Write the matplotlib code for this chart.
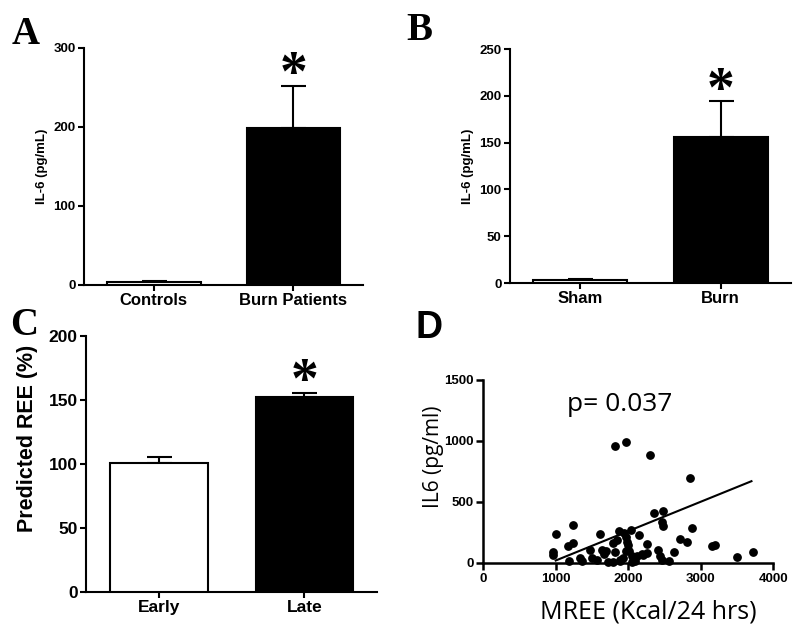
import numpy as np
import matplotlib
matplotlib.use("Agg")
import matplotlib.pyplot as plt

# Panel A - human IL-6
a_groups = ["Controls", "Burn Patients"]
a_means = [4, 198]
a_sem = [1, 54]
a_colors = ["white", "black"]

# Panel B - mouse IL-6
b_groups = ["Sham", "Burn"]
b_means = [3, 156]
b_sem = [1, 38]
b_colors = ["white", "black"]

# Panel C - predicted REE
c_groups = ["Early", "Late"]
c_means = [101, 152]
c_sem = [4, 3]
c_colors = ["white", "black"]

# Panel D - MREE vs IL6
mree = [1816, 1963, 2304, 2855, 2354, 2483, 2460, 2474, 2874, 1007, 1241, 1609,
        1871, 1940, 2037, 2143, 2713, 2805, 3159, 3196, 3494, 3724, 956, 956,
        1172, 1241, 1182, 1333, 1356, 1471, 1494, 1563, 1632, 1687, 1664, 1793,
        1816, 1784, 1839, 1885, 1931, 1968, 1977, 2000, 2014, 1963, 2046, 2092,
        2115, 2184, 2253, 2253, 2207, 2405, 2437, 2460, 2561, 2635, 2046, 1885,
        1725]
il6 = [958, 994, 883, 697, 410, 424, 335, 305, 289, 235, 308, 238,
       265, 243, 270, 230, 197, 173, 135, 148, 46, 86, 89, 62,
       140, 167, 13, 40, 19, 108, 40, 22, 108, 94, 76, 162,
       92, 5, 189, 27, 40, 216, 175, 148, 94, 94, 54, 13,
       54, 76, 157, 81, 67, 108, 54, 22, 16, 89, 5, 13,
       5]
fit_x = [1000, 3700]
fit_y = [20, 670]
p_text = "p= 0.037"

BAR_FONT = "Liberation Sans"


def bar_panel(ax, groups, means, sem, colors, ymax, ystep, ylabel, ylabel_size,
              tick_size, label_size):
    x = np.arange(len(groups))
    ax.bar(x, means, width=0.67, color=colors, edgecolor="black", linewidth=1.5, zorder=3)
    ax.errorbar(x, means, yerr=[np.zeros(len(sem)), sem], fmt="none", ecolor="black",
                elinewidth=1.5, capsize=9, capthick=1.5, zorder=2)
    # significance star above the second bar
    ax.text(x[1], means[1] + sem[1] + 0.042 * ymax, "*", ha="center", va="center",
            fontsize=40, fontweight="bold", family="Liberation Serif")
    ax.set_xlim(-0.5, 1.5)
    ax.set_ylim(0, ymax)
    ax.set_yticks(np.arange(0, ymax + 1, ystep))
    ax.set_xticks(x)
    ax.set_xticklabels(groups, fontsize=label_size, fontweight="bold", family=BAR_FONT)
    for t in ax.get_yticklabels():
        t.set_fontsize(tick_size)
        t.set_fontweight("bold")
        t.set_family(BAR_FONT)
    ax.set_ylabel(ylabel, fontsize=ylabel_size, fontweight="bold", family=BAR_FONT)
    for s in ["top", "right"]:
        ax.spines[s].set_visible(False)
    for s in ["left", "bottom"]:
        ax.spines[s].set_linewidth(1.5)
    ax.tick_params(width=1.5, length=4, pad=2)


fig = plt.figure(figsize=(8, 6.29), dpi=100)

axA = fig.add_axes([0.105, 0.547, 0.349, 0.377])
bar_panel(axA, a_groups, a_means, a_sem, a_colors, 300, 100, "IL-6 (pg/mL)", 9.5, 9.5, 12)

axB = fig.add_axes([0.6375, 0.550, 0.351, 0.372])
bar_panel(axB, b_groups, b_means, b_sem, b_colors, 250, 50, "IL-6 (pg/mL)", 9.5, 9.5, 12)

axC = fig.add_axes([0.1075, 0.059, 0.364, 0.407])
bar_panel(axC, c_groups, c_means, c_sem, c_colors, 200, 50, "Predicted REE (%)", 15.5, 12.5, 12.5)
axC.yaxis.set_label_coords(-0.165, 0.6)

axD = fig.add_axes([0.604, 0.105, 0.3625, 0.291])
axD.scatter(mree, il6, s=28, color="black", zorder=3, clip_on=False)
axD.plot(fit_x, fit_y, color="black", linewidth=1.5, zorder=2)
axD.set_xlim(0, 4000)
axD.set_ylim(0, 1500)
axD.set_xticks([0, 1000, 2000, 3000, 4000])
axD.set_yticks([0, 500, 1000, 1500])
for t in axD.get_xticklabels() + axD.get_yticklabels():
    t.set_fontsize(9.5)
    t.set_fontweight("bold")
    t.set_family(BAR_FONT)
axD.set_xlabel("MREE (Kcal/24 hrs)", fontsize=18, family="Open Sans")
axD.set_ylabel("IL6 (pg/ml)", fontsize=15, family="Open Sans")
axD.xaxis.set_label_coords(0.569, -0.2)
axD.yaxis.set_label_coords(-0.135, 0.58)
axD.text(1876, 1295, p_text, ha="center", va="center", fontsize=19, family="Open Sans")
for s in ["top", "right"]:
    axD.spines[s].set_visible(False)
for s in ["left", "bottom"]:
    axD.spines[s].set_linewidth(1.8)
axD.tick_params(width=1.8, length=5, pad=2)

# panel letters
fig.text(0.015, 0.945, "A", fontsize=28, fontweight="bold", family="Liberation Serif", va="center")
fig.text(0.508, 0.952, "B", fontsize=28, fontweight="bold", family="Liberation Serif", va="center")
fig.text(0.013, 0.482, "C", fontsize=28, fontweight="bold", family="Liberation Serif", va="center")
fig.text(0.520, 0.478, "D", fontsize=27, fontweight="bold", family="Liberation Sans", va="center")

fig.savefig("out.png", dpi=100, facecolor="white")
